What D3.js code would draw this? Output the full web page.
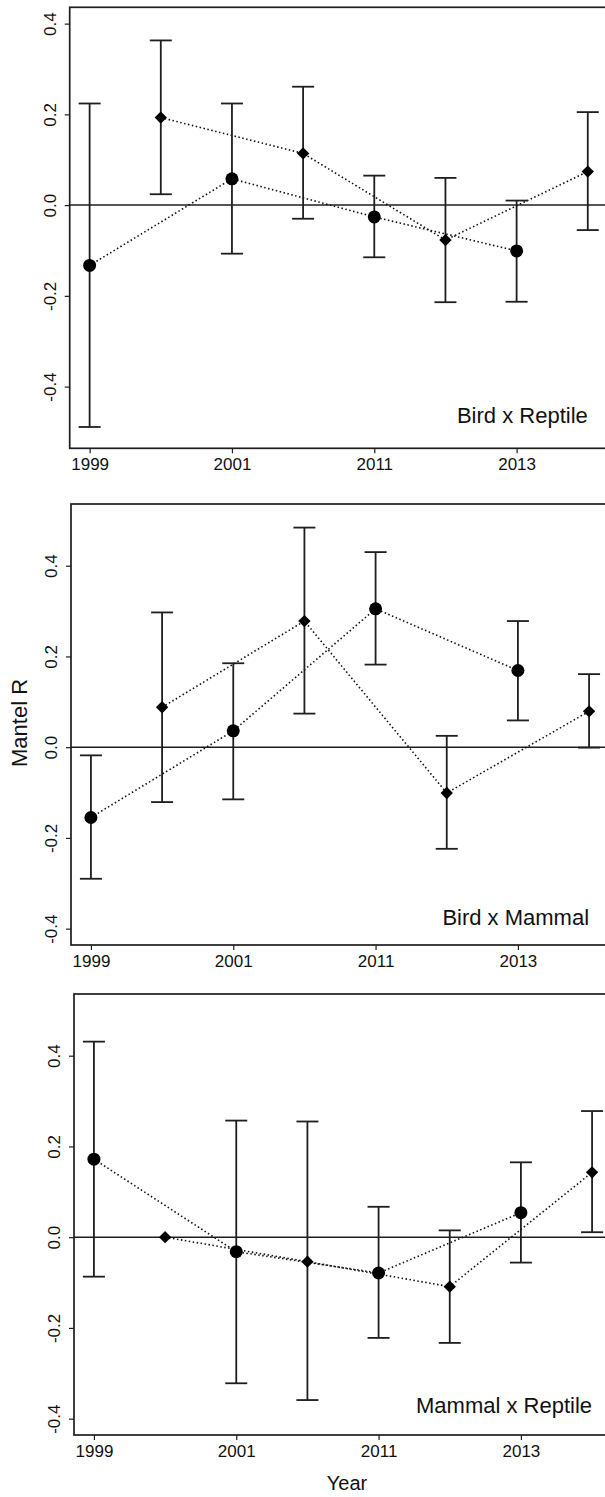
<!DOCTYPE html>
<html>
<head>
<meta charset="utf-8">
<script src="https://cdn.jsdelivr.net/npm/d3@7"></script>
<style>
  html, body { margin: 0; padding: 0; background: #fff; }
  svg { display: block; overflow: hidden; }
</style>
</head>
<body>
<div id="chart"></div>
<script>
const W = 605, H = 1497;

// tick labels on the x axis (at positions 1, 3, 5, 7)
const years = ['1999', '2001', '2011', '2013'];
const yTicks = [-0.4, -0.2, 0.0, 0.2, 0.4];
const panelNames = ['Bird x Reptile', 'Bird x Mammal', 'Mammal x Reptile'];

// circle series: odd positions 1,3,5,7
const circleR  = [[-0.133, 0.058, -0.026, -0.101], [-0.155, 0.036, 0.305, 0.169], [0.172, -0.032, -0.079, 0.054]];
const circleLo = [[-0.489, -0.107, -0.115, -0.213], [-0.290, -0.115, 0.182, 0.059], [-0.087, -0.322, -0.222, -0.056]];
const circleHi = [[0.224, 0.224, 0.065, 0.010], [-0.018, 0.185, 0.430, 0.278], [0.431, 0.257, 0.067, 0.165]];

// diamond series: even positions 2,4,6,8
const diamR  = [[0.193, 0.114, -0.077, 0.074], [0.088, 0.278, -0.101, 0.079], [0.000, -0.054, -0.109, 0.143]];
const diamLo = [[0.024, -0.030, -0.214, -0.055], [-0.121, 0.074, -0.224, -0.001], [0.000, -0.359, -0.233, 0.011]];
const diamHi = [[0.363, 0.261, 0.060, 0.205], [0.297, 0.484, 0.025, 0.161], [0.000, 0.255, 0.015, 0.278]];

// y limits per panel (R ylim)
const yLims = [[-0.5, 0.4], [-0.4, 0.5], [-0.4, 0.5]];

// layout of the three stacked panels
const PANEL_LEFT = [69.7, 71, 74];
const PANEL_TOP  = [7.3, 504, 994];
const PANEL_H = 441, PANEL_W = 538;
const LABEL_Y = [-0.481, -0.393, -0.387];
const INK = '#1e1e1e';
const FONT = '"Liberation Sans", Arial, sans-serif';

const svg = d3.select('#chart').append('svg')
  .attr('width', W).attr('height', H)
  .attr('viewBox', `0 0 ${W} ${H}`);

function pad(lim) {
  const r = lim[1] - lim[0];
  return [lim[0] - 0.04 * r, lim[1] + 0.04 * r];
}

panelNames.forEach((name, p) => {
  const left = PANEL_LEFT[p], top = PANEL_TOP[p];
  const x = d3.scaleLinear().domain(pad([1, 8])).range([left, left + PANEL_W]);
  const y = d3.scaleLinear().domain(pad(yLims[p])).range([top + PANEL_H, top]);

  const g = svg.append('g');

  const circ = circleR[p].map((v, i) => ({ pos: 2 * i + 1, v, lo: circleLo[p][i], hi: circleHi[p][i] }));
  const diam = diamR[p].map((v, i) => ({ pos: 2 * i + 2, v, lo: diamLo[p][i], hi: diamHi[p][i] }));

  // zero line
  g.append('line')
    .attr('x1', left).attr('x2', left + PANEL_W)
    .attr('y1', y(0)).attr('y2', y(0))
    .attr('stroke', INK).attr('stroke-width', 1.5);

  // dotted connecting lines
  const line = d3.line().x(d => x(d.pos)).y(d => y(d.v));
  [circ, diam].forEach(s => {
    g.append('path')
      .attr('d', line(s))
      .attr('fill', 'none')
      .attr('stroke', '#111')
      .attr('stroke-width', 1.6)
      .attr('stroke-dasharray', '1.5,2.5');
  });

  // error bars
  const bars = [...circ, ...diam].filter(d => d.hi !== d.lo);
  const eb = g.append('g').attr('stroke', INK).attr('stroke-width', 1.8).attr('fill', 'none');
  bars.forEach(d => {
    const cx = x(d.pos);
    eb.append('line').attr('x1', cx).attr('x2', cx).attr('y1', y(d.lo)).attr('y2', y(d.hi));
    eb.append('line').attr('x1', cx - 11).attr('x2', cx + 11).attr('y1', y(d.lo)).attr('y2', y(d.lo));
    eb.append('line').attr('x1', cx - 11).attr('x2', cx + 11).attr('y1', y(d.hi)).attr('y2', y(d.hi));
  });

  // markers
  g.selectAll('circle.pt')
    .data(circ)
    .join('circle')
    .attr('class', 'pt')
    .attr('cx', d => x(d.pos))
    .attr('cy', d => y(d.v))
    .attr('r', 6.5)
    .attr('fill', '#000');

  const sq = d3.symbol().type(d3.symbolSquare).size(76);
  g.selectAll('path.dm')
    .data(diam)
    .join('path')
    .attr('class', 'dm')
    .attr('d', sq)
    .attr('transform', d => `translate(${x(d.pos)},${y(d.v)}) rotate(45)`)
    .attr('fill', '#000');

  // frame
  g.append('rect')
    .attr('x', left).attr('y', top)
    .attr('width', PANEL_W).attr('height', PANEL_H)
    .attr('fill', 'none').attr('stroke', INK).attr('stroke-width', 1.7);

  // y axis
  const ya = g.append('g')
    .attr('transform', `translate(${left},0)`)
    .call(d3.axisLeft(y).tickValues(yTicks).tickSize(5).tickFormat(d => d.toFixed(1)));
  ya.select('.domain').remove();
  ya.selectAll('line').attr('stroke', INK).attr('stroke-width', 1.2);
  ya.selectAll('text')
    .attr('x', 0).attr('dy', null).attr('y', 0)
    .attr('text-anchor', 'middle')
    .attr('transform', 'translate(-14,0) rotate(-90)')
    .attr('font-family', FONT).attr('font-size', 17).attr('fill', '#111');

  // x axis
  const xa = g.append('g')
    .attr('transform', `translate(0,${top + PANEL_H})`)
    .call(d3.axisBottom(x).tickValues([1, 3, 5, 7]).tickSize(5)
      .tickFormat((d, i) => years[i]));
  xa.select('.domain').remove();
  xa.selectAll('line').attr('stroke', INK).attr('stroke-width', 1.2);
  xa.selectAll('text')
    .attr('y', 22).attr('dy', null)
    .attr('font-family', FONT).attr('font-size', 17).attr('fill', '#111');

  // panel label
  g.append('text')
    .attr('x', x(8)).attr('y', y(LABEL_Y[p]))
    .attr('text-anchor', 'end')
    .attr('font-family', FONT).attr('font-size', 22).attr('fill', '#111')
    .text(name);
});

// axis titles
svg.append('text')
  .attr('transform', 'translate(27,723) rotate(-90)')
  .attr('text-anchor', 'middle')
  .attr('font-family', FONT).attr('font-size', 22).attr('fill', '#111')
  .text('Mantel R');

svg.append('text')
  .attr('x', 347).attr('y', 1490)
  .attr('text-anchor', 'middle')
  .attr('font-family', FONT).attr('font-size', 20).attr('fill', '#111')
  .text('Year');
</script>
</body>
</html>
